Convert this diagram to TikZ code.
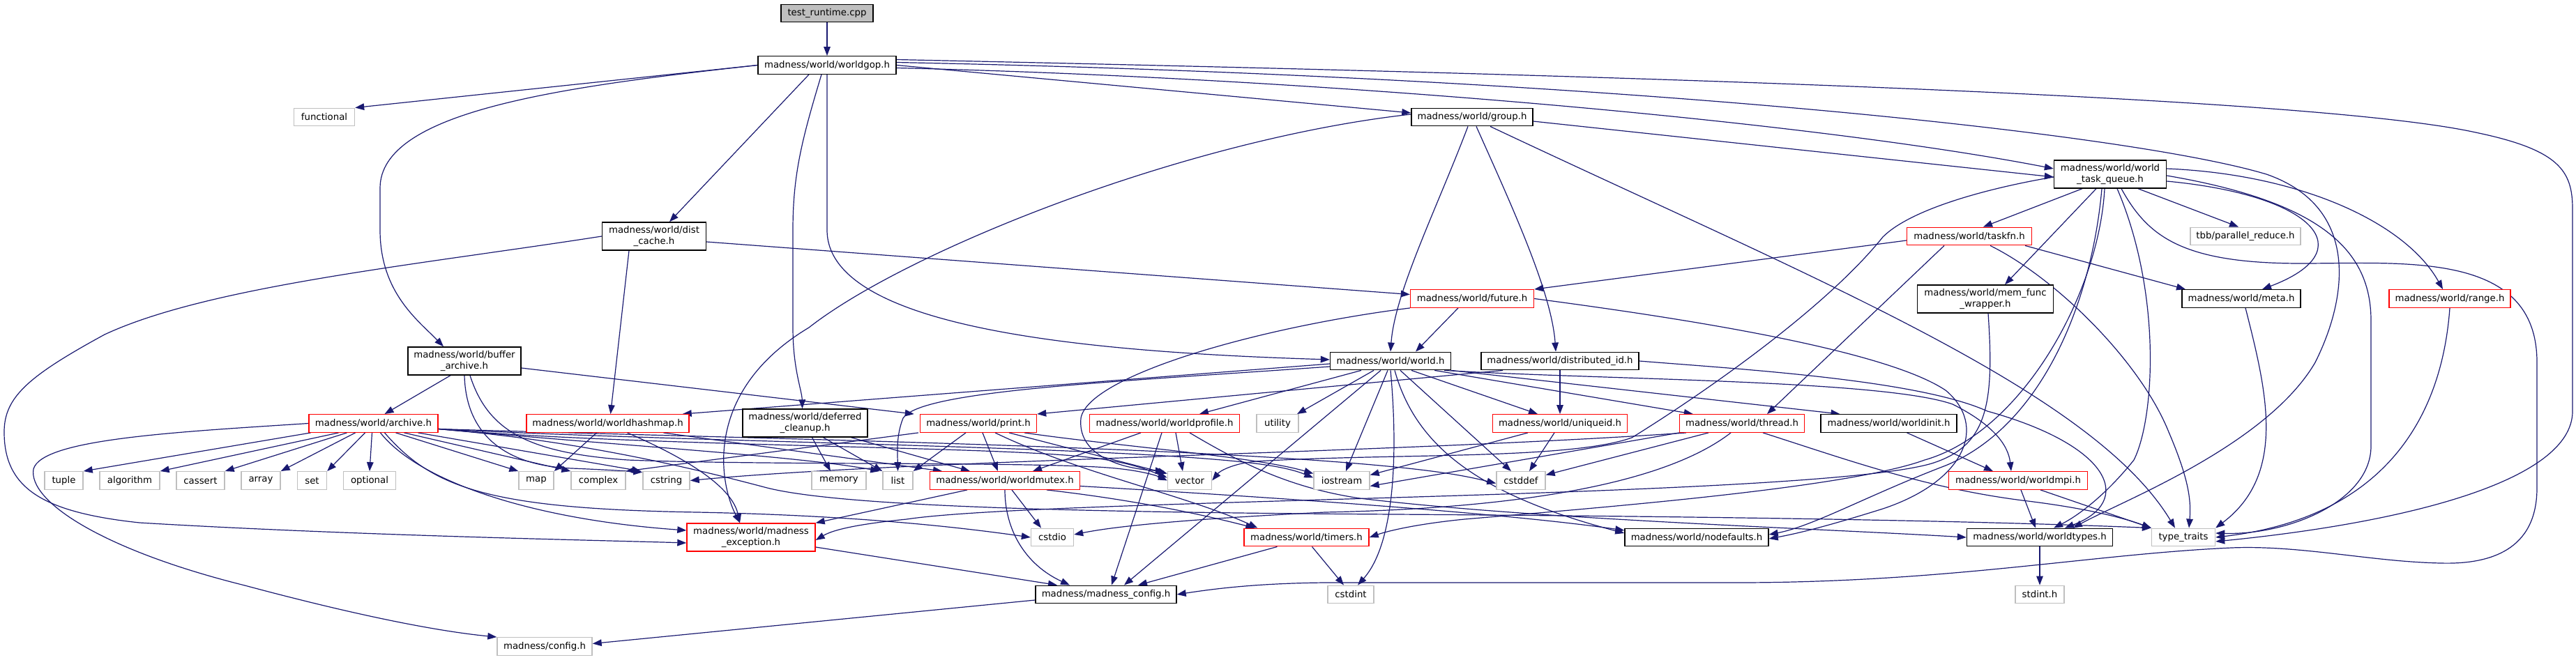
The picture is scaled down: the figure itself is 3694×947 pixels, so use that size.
\documentclass[tikz,border=0pt]{standalone}
\usepackage{fontspec}
\setmainfont{DejaVu Sans}
\usetikzlibrary{arrows.meta}
\definecolor{ec}{RGB}{25,25,112}
\definecolor{gb}{RGB}{191,191,191}
\definecolor{rb}{RGB}{255,0,0}
\pgfdeclarelayer{bg}
\pgfsetlayers{bg,main}
\begin{document}
\begin{tikzpicture}[x=0.5pt,y=-0.5pt,
 box/.style={draw, fill=white, line width=0.7pt, inner sep=0pt, minimum height=12.75pt, align=center, font=\fontsize{6.65pt}{7.6pt}\selectfont},
 nb/.style={box, draw=black},
 nr/.style={box, draw=rb},
 ng/.style={box, draw=gb},
 tall/.style={minimum height=20pt},
 e/.style={draw=ec, line width=0.6pt, -{Triangle[length=6.5pt,width=4.8pt]}}]
\useasboundingbox (0,0) rectangle (3694,947);
% row 0-1
\node[nb, fill=gb, minimum width=66pt] (test) at (1186,19) {test\_runtime.cpp};
\node[nb, minimum width=99pt] (worldgop) at (1186,93.5) {madness/world/worldgop.h};
\node[ng, minimum width=43.5pt] (functional) at (465,168) {functional};
\node[nb, minimum width=87pt] (group) at (2111,168) {madness/world/group.h};
\node[nb, tall, minimum width=80.5pt] (wtq) at (3026,250) {madness/world/world\\\_task\_queue.h};
\node[nb, tall, minimum width=74.5pt] (dist) at (938,339) {madness/world/dist\\\_cache.h};
\node[nr, minimum width=89.5pt] (taskfn) at (2824,339) {madness/world/taskfn.h};
\node[ng, minimum width=79pt] (tbb) at (3220,339) {tbb/parallel\_reduce.h};
\node[nr, minimum width=88.5pt] (future) at (2111,428.5) {madness/world/future.h};
\node[nb, tall, minimum width=97.5pt] (memfunc) at (2847,429) {madness/world/mem\_func\\\_wrapper.h};
\node[nb, minimum width=85pt] (meta) at (3214,428.5) {madness/world/meta.h};
\node[nr, minimum width=87pt] (range) at (3513,428.5) {madness/world/range.h};
\node[nb, tall, minimum width=81pt] (buffer) at (666,518) {madness/world/buffer\\\_archive.h};
\node[nb, minimum width=86.5pt] (world) at (1994,518) {madness/world/world.h};
\node[nb, minimum width=113pt] (distid) at (2237,518) {madness/world/distributed\_id.h};
% row 607
\node[nr, minimum width=92.5pt] (archive) at (535.5,607.5) {madness/world/archive.h};
\node[nr, minimum width=116.5pt] (hashmap) at (871.5,607.5) {madness/world/worldhashmap.h};
\node[nb, tall, minimum width=89.5pt] (deferred) at (1154.5,607) {madness/world/deferred\\\_cleanup.h};
\node[nr, minimum width=83.5pt] (print) at (1403,607.5) {madness/world/print.h};
\node[nr, minimum width=107.5pt] (profile) at (1670,607.5) {madness/world/worldprofile.h};
\node[ng, minimum width=30pt] (utility) at (1832,607.5) {utility};
\node[nr, minimum width=96.5pt] (uniqueid) at (2237,607.5) {madness/world/uniqueid.h};
\node[nr, minimum width=89.5pt] (thread) at (2498,607.5) {madness/world/thread.h};
\node[nb, minimum width=97.5pt] (worldinit) at (2708.5,607.5) {madness/world/worldinit.h};
% row 689
\node[ng, minimum width=27.5pt] (tuple) at (91.5,689.5) {tuple};
\node[ng, minimum width=43pt] (algorithm) at (186,689.5) {algorithm};
\node[ng, minimum width=34.5pt] (cassert) at (287.5,689.5) {cassert};
\node[ng, minimum width=28pt] (array) at (374,689.5) {array};
\node[ng, minimum width=21pt] (set) at (447.5,689.5) {set};
\node[ng, minimum width=37.5pt] (optional) at (530,689.5) {optional};
\node[ng, minimum width=25pt] (map) at (769,689.5) {map};
\node[ng, minimum width=39pt] (complex) at (858,689.5) {complex};
\node[ng, minimum width=33.5pt] (cstring) at (955.5,689.5) {cstring};
\node[ng, minimum width=39pt] (memory) at (1203,689.5) {memory};
\node[ng, minimum width=21.5pt] (list) at (1287.5,689.5) {list};
\node[nr, minimum width=107.5pt] (worldmutex) at (1441,689.5) {madness/world/worldmutex.h};
\node[ng, minimum width=31.5pt] (vector) at (1706,689.5) {vector};
\node[ng, minimum width=40pt] (iostream) at (1924,689.5) {iostream};
\node[ng, minimum width=35pt] (cstddef) at (2181,689.5) {cstddef};
\node[nr, minimum width=99.5pt] (worldmpi) at (2894,689.5) {madness/world/worldmpi.h};
% row 771
\node[nr, tall, minimum width=92pt] (mexc) at (1077,771) {madness/world/madness\\\_exception.h};
\node[ng, minimum width=30.5pt] (cstdio) at (1509,771) {cstdio};
\node[nr, minimum width=89.5pt] (timers) at (1873.5,771) {madness/world/timers.h};
\node[nb, minimum width=103pt] (nodefaults) at (2433,771) {madness/world/nodefaults.h};
\node[nb, minimum width=104.5pt] (worldtypes) at (2925,771) {madness/world/worldtypes.h};
\node[ng, minimum width=45.5pt] (typetraits) at (3131,771) {type\_traits};
% row 853
\node[nb, minimum width=101pt] (mconfig) at (1586,853) {madness/madness\_config.h};
\node[ng, minimum width=33pt] (cstdint) at (1937,853) {cstdint};
\node[ng, minimum width=35pt] (stdint) at (2925,853) {stdint.h};
\node[ng, minimum width=68pt] (config) at (781,927.5) {madness/config.h};

\begin{pgfonlayer}{bg}
\draw[e] (test) -- (worldgop);
% worldgop
\draw[e] (worldgop.west) -- (functional.north east);
\draw[e] (worldgop.west) .. controls (800,125) and (545,160) .. (545,270) -- (545,330) .. controls (545,420) and (600,460) .. ([xshift=-15pt]buffer.north);
\draw[e] ([xshift=-13pt]worldgop.south) -- ([xshift=11pt]dist.north);
\draw[e] ([xshift=-4pt]worldgop.south) .. controls (1150,200) and (1137,250) .. (1137,330) -- (1137,470) .. controls (1137,530) and (1150,560) .. ([xshift=-2pt]deferred.north);
\draw[e] (worldgop.south) -- (1186,330) .. controls (1186,470) and (1550,505) .. ([yshift=1pt]world.west);
\draw[e] (worldgop.east) -- ([yshift=3pt]group.west);
\draw[e] ([yshift=-2pt]worldgop.east) .. controls (1900,112) and (2600,175) .. ([yshift=4pt]wtq.west);
\draw[e] ([yshift=2pt]worldgop.east) .. controls (2300,110) and (3050,190) .. (3250,250) .. controls (3380,295) and (3370,420) .. (3320,520) .. controls (3250,640) and (3040,720) .. ([xshift=24pt]worldtypes.north);
\draw[e] ([yshift=4pt]worldgop.east) .. controls (2200,105) and (3300,135) .. (3550,190) .. controls (3670,215) and (3689,245) .. (3689,300) -- (3689,590) .. controls (3689,690) and (3450,750) .. ([yshift=-3pt]typetraits.east);
% group
\draw[e] ([yshift=-3pt]group.east) -- ([yshift=-2pt]wtq.west);
\draw[e] ([xshift=-3pt]group.south) .. controls (2060,300) and (2000,420) .. (world.north);
\draw[e] ([xshift=3pt]group.south) .. controls (2170,300) and (2225,420) .. ([xshift=-3pt]distid.north);
\draw[e] ([yshift=2pt]group.west) .. controls (1700,200) and (1300,360) .. (1160,470) .. controls (1010,560) and (1030,690) .. ([xshift=-8pt]mexc.north);
\draw[e] ([xshift=13pt]group.south) .. controls (2600,400) and (3000,560) .. ([xshift=-6pt]typetraits.north);
% wtq
\draw[e] ([xshift=-20pt]wtq.south) -- ([xshift=10pt]taskfn.north);
\draw[e] ([xshift=-10pt]wtq.south) -- ([xshift=14pt]memfunc.north);
\draw[e] ([xshift=20pt]wtq.south) -- ([xshift=-5pt]tbb.north);
\draw[e] ([yshift=-5pt]wtq.east) .. controls (3320,280) and (3390,360) .. ([xshift=15pt]meta.north);
\draw[e] ([yshift=4pt]wtq.east) .. controls (3300,250) and (3450,320) .. ([xshift=-5pt]range.north);
\draw[e] ([yshift=-1pt]wtq.east) .. controls (3330,290) and (3400,360) .. (3400,460) -- (3400,640) .. controls (3400,720) and (3280,768) .. ([yshift=3pt]typetraits.east);
\draw[e] ([xshift=5pt]wtq.south) .. controls (3100,420) and (3090,600) .. (3060,660) .. controls (3020,710) and (2980,740) .. ([xshift=10pt]worldtypes.north);
\draw[e] ([xshift=8pt]wtq.south) .. controls (3080,340) and (3130,378) .. (3300,378) .. controls (3450,378) and (3638,360) .. (3638,520) -- (3638,700) .. controls (3638,790) and (3570,810) .. (3500,808) .. controls (3400,806) and (3300,782) .. (3200,786) .. controls (3000,795) and (2800,835) .. (2500,836) -- (1900,836) .. controls (1800,837) and (1740,845) .. (mconfig.east);
\draw[e] ([xshift=-4pt]wtq.south) .. controls (3010,420) and (2900,620) .. (2760,660) .. controls (2650,700) and (2300,728) .. (2100,745) .. controls (2030,752) and (1990,762) .. (timers.east);
\draw[e] ([xshift=-6pt]wtq.south) .. controls (3000,430) and (2930,610) .. (2790,668) .. controls (2680,710) and (2600,755) .. ([yshift=2pt]nodefaults.east);
\draw[e] ([yshift=-2pt]wtq.west) .. controls (2850,270) and (2740,300) .. (2700,340) .. controls (2620,440) and (2450,560) .. (2340,628) .. controls (2250,660) and (2000,650) .. (1800,662) .. controls (1770,665) and (1750,675) .. (vector.east);
% taskfn
\draw[e] ([yshift=-3pt]taskfn.west) -- (future.north east);
\draw[e] ([xshift=-18pt]taskfn.south) -- ([xshift=18pt]thread.north);
\draw[e] ([xshift=40pt]taskfn.south) -- ([xshift=-40pt]meta.north);
\draw[e] ([xshift=15pt]taskfn.south) .. controls (2950,400) and (3070,520) .. (3110,620) .. controls (3140,690) and (3142,720) .. ([xshift=4pt]typetraits.north);
% memfunc
\draw[e] ([xshift=2pt]memfunc.south) .. controls (2860,580) and (2850,640) .. (2770,665) .. controls (2600,715) and (1500,715) .. (1300,745) .. controls (1230,752) and (1195,760) .. ([yshift=-2pt]mexc.east);
% future
\draw[e] ([xshift=-10pt]future.south) -- ([xshift=18pt]world.north);
\draw[e] (future.south west) .. controls (1800,470) and (1560,540) .. (1550,600) .. controls (1545,650) and (1600,672) .. ([xshift=-2pt]vector.north west);
\draw[e] (future.east) .. controls (2400,455) and (2700,500) .. (2790,560) .. controls (2850,610) and (2820,690) .. (2700,730) .. controls (2620,755) and (2580,765) .. ([yshift=-1pt]nodefaults.east);
% dist_cache
\draw[e] ([yshift=-4pt]dist.east) -- ([yshift=3pt]future.west);
\draw[e] ([xshift=-18pt]dist.south) -- ([xshift=2pt]hashmap.north);
\draw[e] (dist.west) .. controls (600,380) and (300,410) .. (150,480) .. controls (40,540) and (6,570) .. (6,620) .. controls (6,700) and (60,735) .. (200,750) .. controls (500,768) and (850,775) .. ([yshift=-4pt]mexc.west);
% buffer
\draw[e] ([xshift=-10pt]buffer.south) -- ([xshift=8pt]archive.north);
\draw[e] ([yshift=-5pt]buffer.east) -- ([xshift=-4pt]print.north west);
\draw[e] (buffer.south) .. controls (668,620) and (720,668) .. (820,672) .. controls (870,674) and (900,676) .. ([yshift=6pt]cstring.west);
\draw[e] ([xshift=4pt]buffer.south) .. controls (700,620) and (760,650) .. (900,660) .. controls (1100,668) and (1500,662) .. (1600,672) .. controls (1640,676) and (1660,683) .. (vector.west);
% archive
\draw[e] ([xshift=-45pt]archive.south) -- (tuple.north east);
\draw[e] ([xshift=-25pt]archive.south) -- (algorithm.north east);
\draw[e] ([xshift=-19pt]archive.south) -- (cassert.north east);
\draw[e] ([xshift=-13pt]archive.south) -- (array.north east);
\draw[e] ([xshift=-6pt]archive.south) -- (set.north east);
\draw[e] ([xshift=-1pt]archive.south) -- (optional.north);
\draw[e] ([xshift=16pt]archive.south) -- (map.north west);
\draw[e] ([xshift=22pt]archive.south) -- (complex.north west);
\draw[e] ([xshift=32pt]archive.south) -- ([xshift=-1pt]cstring.north west);
\draw[e] ([xshift=5pt]archive.south) .. controls (600,690) and (760,745) .. ([yshift=5pt]mexc.west);
\draw[e] ([xshift=8pt]archive.south) .. controls (620,700) and (700,730) .. (1000,735) .. controls (1250,740) and (1400,760) .. (cstdio.west);
\draw[e] ([yshift=-4pt]archive.east) .. controls (900,640) and (1150,655) .. ([xshift=-2pt]list.north west);
\draw[e] ([yshift=-4pt]archive.east) .. controls (900,640) and (1400,640) .. (1550,655) .. controls (1620,662) and (1650,676) .. ([yshift=2pt]vector.west);
\draw[e] ([yshift=-4pt]archive.east) .. controls (1000,635) and (1600,640) .. (1800,665) .. controls (1840,670) and (1860,676) .. ([yshift=2pt]iostream.west);
\draw[e] ([yshift=-4pt]archive.east) .. controls (1100,630) and (1700,640) .. (2000,670) .. controls (2080,678) and (2110,685) .. ([yshift=-2pt]cstddef.west);
\draw[e] ([yshift=-4pt]archive.east) .. controls (800,630) and (950,660) .. (1100,700) .. controls (1200,725) and (1500,735) .. (2000,738) .. controls (2600,742) and (2900,750) .. (typetraits.north west);
\draw[e] (archive.west) .. controls (250,620) and (60,630) .. (48,673) .. controls (40,720) and (150,790) .. (351,840) .. controls (500,880) and (620,905) .. (config.north west);
% hashmap
\draw[e] ([xshift=-8pt]hashmap.south) -- (map.north east);
\draw[e] ([xshift=14pt]hashmap.south) .. controls (990,660) and (1050,700) .. ([xshift=-8pt]mexc.north);
\draw[e] ([xshift=40pt]hashmap.south) -- ([xshift=-45pt]worldmutex.north);
% deferred
\draw[e] ([xshift=5pt]deferred.south) -- ([xshift=-6pt]memory.north);
\draw[e] ([xshift=13pt]deferred.south) -- (list.north west);
\draw[e] ([xshift=33pt]deferred.south) -- ([xshift=-25pt]worldmutex.north);
% print
\draw[e] ([xshift=-1pt]print.south west) -- (complex.north east);
\draw[e] ([xshift=-9pt]print.south) -- (list.north east);
\draw[e] ([xshift=3pt]print.south) -- ([xshift=-5pt]worldmutex.north);
\draw[e] ([xshift=12pt]print.south) .. controls (1550,680) and (1700,710) .. ([xshift=10pt]timers.north west);
\draw[e] ([xshift=22pt]print.south) -- ([yshift=5pt]vector.west);
\draw[e] ([xshift=33pt]print.south) .. controls (1600,640) and (1800,655) .. ([yshift=5pt]iostream.west);
% profile
\draw[e] ([xshift=-17pt]profile.south) -- ([xshift=20pt]worldmutex.north);
\draw[e] ([xshift=-2pt]profile.south) -- ([xshift=4pt]mconfig.north);
\draw[e] ([xshift=8pt]profile.south) -- ([xshift=-5pt]vector.north);
\draw[e] ([xshift=18pt]profile.south) .. controls (1780,665) and (1850,700) .. (1950,715) .. controls (2200,745) and (2600,758) .. (worldtypes.west);
% world
\draw[e] ([yshift=-2pt]world.west) -- ([xshift=-5pt]hashmap.north east);
\draw[e] ([yshift=-4pt]world.west) .. controls (1600,548) and (1320,560) .. (1295,600) .. controls (1285,625) and (1287,650) .. (list.north);
\draw[e] ([xshift=-21pt]world.south) -- ([xshift=25pt]profile.north);
\draw[e] ([xshift=-12pt]world.south) -- ([xshift=14pt]utility.north);
\draw[e] ([xshift=-7pt]world.south) -- ([xshift=13pt]mconfig.north);
\draw[e] ([xshift=-2pt]world.south) -- ([xshift=3pt]iostream.north);
\draw[e] (world.south) .. controls (2005,650) and (2000,780) .. ([xshift=5pt]cstdint.north);
\draw[e] ([xshift=3pt]world.south) .. controls (2030,640) and (2120,710) .. ([yshift=3pt]nodefaults.west);
\draw[e] ([xshift=7pt]world.south) -- ([xshift=-7pt]cstddef.north);
\draw[e] ([xshift=15pt]world.south) -- ([xshift=-16pt]uniqueid.north);
\draw[e] ([xshift=-12pt]world.south east) -- ([xshift=10pt]thread.north west);
\draw[e] (world.south east) -- ([xshift=-35pt]worldinit.north);
\draw[e] ([xshift=-5pt]world.south east) .. controls (2300,545) and (2700,545) .. (2800,580) .. controls (2860,610) and (2880,640) .. ([xshift=-5pt]worldmpi.north);
% distributed_id
\draw[e] (distid.south) -- (uniqueid.north);
\draw[e] ([xshift=-41pt]distid.south) -- (print.north east);
\draw[e] (distid.east) .. controls (2500,530) and (2750,545) .. (2850,590) .. controls (3030,640) and (3060,720) .. ([xshift=18pt]worldtypes.north);
% uniqueid
\draw[e] ([xshift=-23pt]uniqueid.south) -- ([yshift=4pt]iostream.east);
\draw[e] ([xshift=-4pt]uniqueid.south) -- ([xshift=6pt]cstddef.north);
% thread
\draw[e] ([xshift=5pt]thread.south west) .. controls (2000,650) and (1300,660) .. (cstring.east);
\draw[e] (thread.south west) -- ([yshift=-4pt]iostream.east);
\draw[e] ([xshift=-24pt]thread.south) -- ([yshift=4pt]cstddef.east);
\draw[e] ([xshift=-8pt]thread.south) .. controls (2380,700) and (2150,730) .. (1900,735) .. controls (1700,745) and (1600,755) .. ([yshift=2pt]cstdio.east);
\draw[e] ([xshift=15pt]thread.south) .. controls (2650,660) and (2760,700) .. (2900,718) .. controls (3000,730) and (3050,745) .. (typetraits.north west);
% worldinit, worldmpi
\draw[e] ([xshift=13pt]worldinit.south) -- ([xshift=-18pt]worldmpi.north);
\draw[e] ([xshift=2pt]worldmpi.south) -- ([xshift=-3pt]worldtypes.north);
\draw[e] ([xshift=16pt]worldmpi.south) -- (typetraits.north west);
% worldmutex
\draw[e] ([xshift=-27pt]worldmutex.south) -- (mexc.north east);
\draw[e] ([xshift=5pt]worldmutex.south) -- ([xshift=-8pt]cstdio.north);
\draw[e] (worldmutex.south) .. controls (1441,760) and (1470,810) .. ([xshift=-26pt]mconfig.north);
\draw[e] ([xshift=30pt]worldmutex.south) .. controls (1650,720) and (1750,745) .. ([xshift=8pt]timers.north west);
\draw[e] ([yshift=-4pt]worldmutex.east) .. controls (1800,712) and (2150,735) .. ([yshift=5pt]nodefaults.west);
% lower
\draw[e] ([yshift=-7pt]mexc.east) -- ([xshift=-35pt]mconfig.north);
\draw[e] ([xshift=-21pt]timers.south) -- ([xshift=23pt]mconfig.north);
\draw[e] ([xshift=4pt]timers.south) -- ([xshift=-5pt]cstdint.north);
\draw[e] ([yshift=-4pt]mconfig.west) -- ([yshift=2pt]config.east);
\draw[e] (worldtypes.south) -- (stdint.north);
\draw[e] ([xshift=3pt]meta.south) .. controls (3250,560) and (3280,680) .. (typetraits.north east);
\draw[e] (range.south) .. controls (3500,620) and (3400,745) .. (typetraits.east);
\end{pgfonlayer}
\end{tikzpicture}
\end{document}
